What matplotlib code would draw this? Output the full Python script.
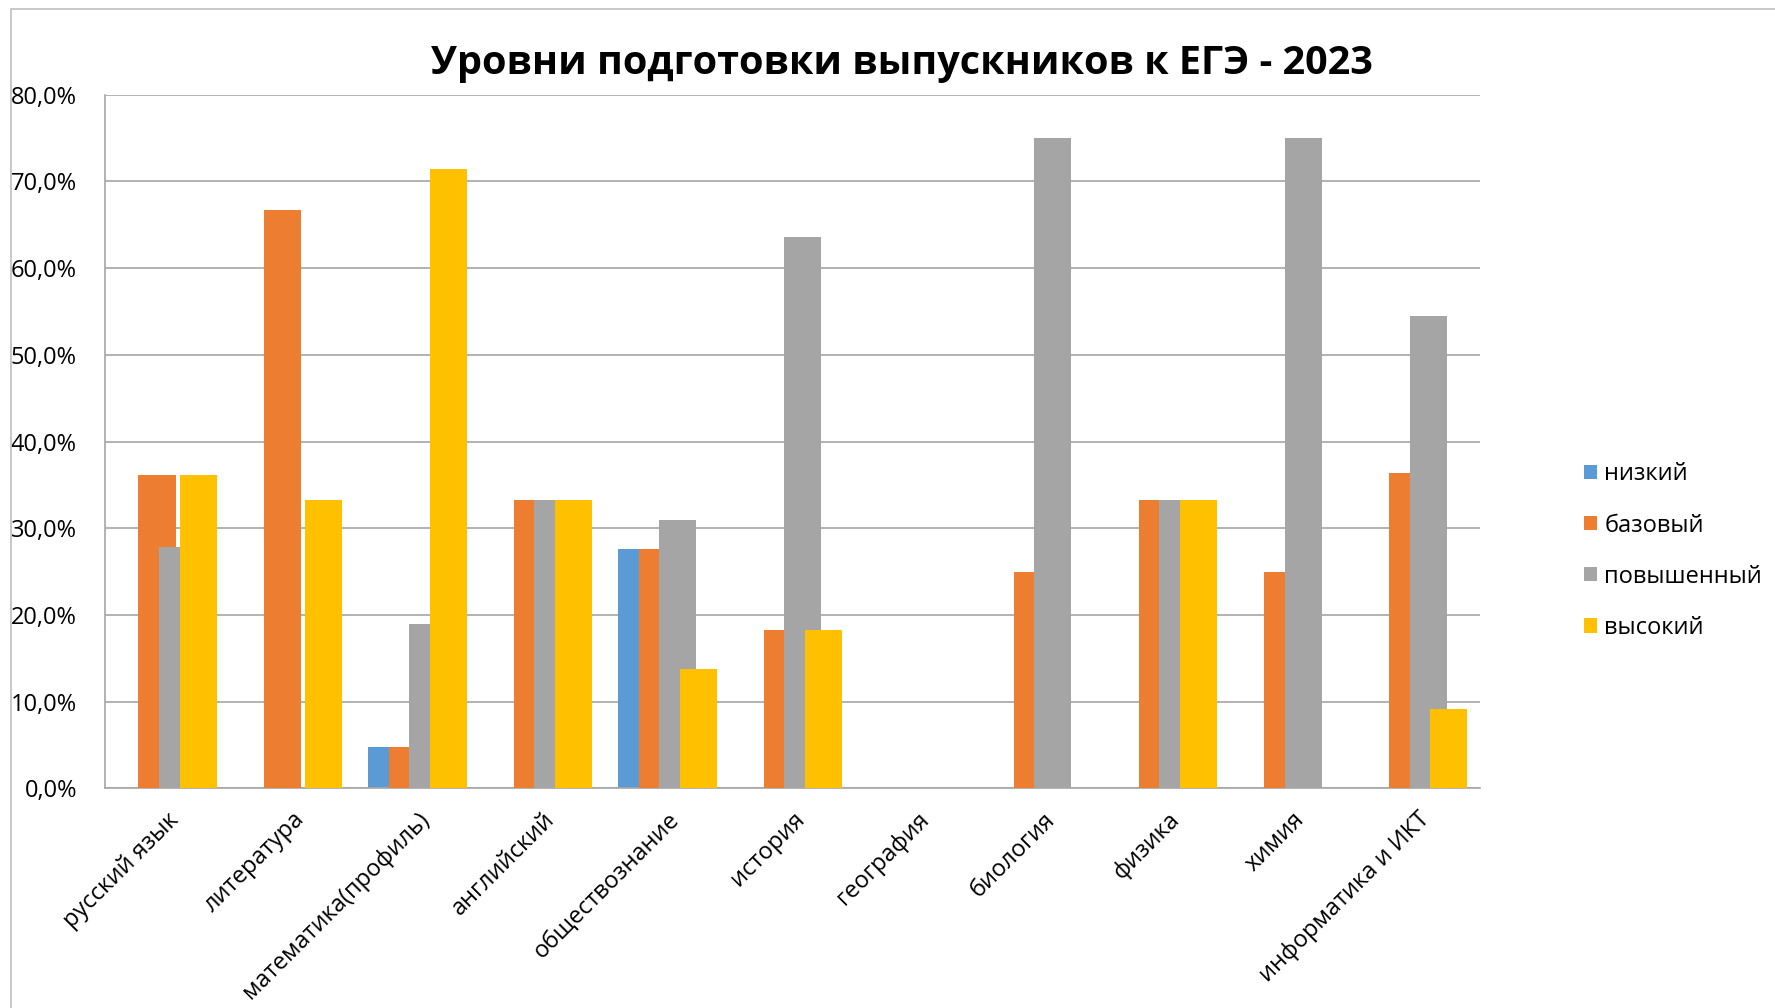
import numpy as np
import matplotlib
matplotlib.use("Agg")
import matplotlib.pyplot as plt
from matplotlib.patches import Rectangle

plt.rcParams['font.family'] = ['Open Sans', 'DejaVu Sans']

subjects = ["русский язык", "литература", "математика(профиль)", "английский",
            "обществознание", "история", "география", "биология", "физика",
            "химия", "информатика и ИКТ"]

levels = ["низкий", "базовый", "повышенный", "высокий"]

low = [0.0, 0.0, 4.8, 0.0, 27.6, 0.0, 0.0, 0.0, 0.0, 0.0, 0.0]
base = [36.1, 66.7, 4.8, 33.3, 27.6, 18.2, 0.0, 25.0, 33.3, 25.0, 36.4]
raised = [27.8, 0.0, 19.0, 33.3, 31.0, 63.6, 0.0, 75.0, 33.3, 75.0, 54.5]
high = [36.1, 33.3, 71.4, 33.3, 13.8, 18.2, 0.0, 0.0, 33.3, 0.0, 9.1]

colors = ['#5B9BD5', '#ED7D31', '#A5A5A5', '#FFC000']

fig = plt.figure(figsize=(17.75, 10.08), dpi=100)
ax = fig.add_axes([0.059, 0.218, 0.775, 0.688])

# outer chart frame
fig.patches.append(Rectangle((11 / 1775, -0.1), 1.2, 1.1 - 9 / 1008,
                             transform=fig.transFigure, fill=False,
                             edgecolor='#BFBFBF', linewidth=1.2))

x = np.arange(len(subjects))
step = 0.164
width = 0.296
for i, (vals, lab) in enumerate(zip([low, base, raised, high], levels)):
    ax.bar(x + (i - 1.5) * step, vals, width, color=colors[i], label=lab,
           zorder=2 + i)

ax.set_xlim(-0.5, len(subjects) - 0.5)
ax.set_ylim(0, 80)
yt = np.arange(0, 81, 10)
ax.set_yticks(yt)
ax.set_yticklabels([f"{v:.1f}%".replace('.', ',') for v in yt], fontsize=17)
ax.yaxis.grid(True, color='#A6A6A6', linewidth=1.2)
ax.set_axisbelow(True)
ax.tick_params(axis='both', length=0)
ax.tick_params(axis='y', pad=20)

ax.set_xticks(x)
ax.set_xticklabels(subjects, rotation=45, ha='right', rotation_mode='anchor',
                   fontsize=17)
ax.tick_params(axis='x', pad=14)

for s in ['top', 'right']:
    ax.spines[s].set_visible(False)
ax.spines['left'].set_color('#A6A6A6')
ax.spines['bottom'].set_color('#A6A6A6')
ax.spines['left'].set_linewidth(1.2)
ax.spines['bottom'].set_linewidth(1.2)

fig.text(0.508, 0.937, "Уровни подготовки выпускников к ЕГЭ - 2023",
         ha='center', va='center', fontsize=28.5, fontweight='bold')

leg = ax.legend(loc='center left', bbox_to_anchor=(1.06, 0.342), frameon=False,
                fontsize=17, handlelength=0.55, handleheight=0.55,
                handletextpad=0.3, labelspacing=1.15)

fig.savefig("out.png", dpi=100)
